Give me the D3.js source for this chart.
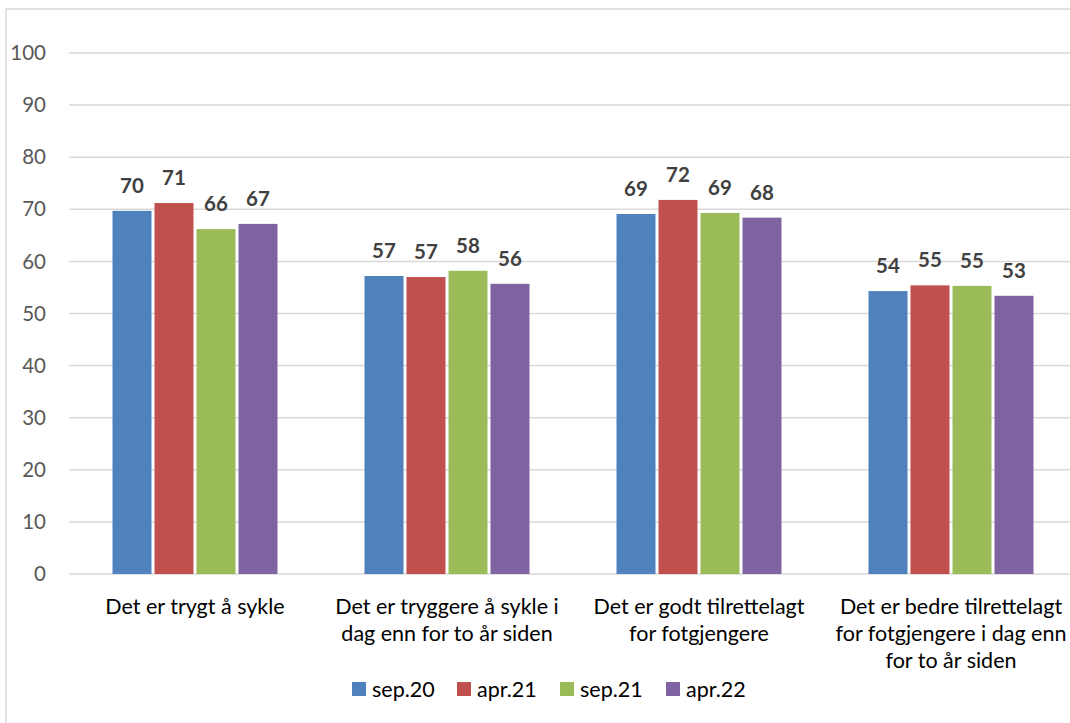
<!DOCTYPE html>
<html><head><meta charset="utf-8">
<script src="https://cdn.jsdelivr.net/npm/d3@7"></script>
<style>body{margin:0;background:#fff}svg{display:block}text{font-family:Lato,"Open Sans",sans-serif}</style>
</head><body>
<svg id="c" width="1070" height="723"></svg>
<script>
const categories = [["Det er trygt å sykle"],["Det er tryggere å sykle i","dag enn for to år siden"],["Det er godt tilrettelagt","for fotgjengere"],["Det er bedre tilrettelagt","for fotgjengere i dag enn","for to år siden"]];
const seriesNames = ["sep.20","apr.21","sep.21","apr.22"];
const sep20 = [69.7, 57.2, 69.1, 54.3];
const apr21 = [71.2, 57.0, 71.8, 55.4];
const sep21 = [66.2, 58.2, 69.3, 55.3];
const apr22 = [67.2, 55.7, 68.4, 53.4];
const colors = ["#4F81BD","#C0504D","#9BBB59","#8064A2"];
const yTicks = [0,10,20,30,40,50,60,70,80,90,100];
const series = [sep20, apr21, sep21, apr22];

const svg = d3.select("#c");
svg.append("rect").attr("x",6).attr("y",9).attr("width",1100).attr("height",760)
  .attr("fill","none").attr("stroke","#d9d9d9").attr("stroke-width",1.5);

const x0 = 69, bw = 252;
const x = d3.scaleBand().domain(d3.range(categories.length)).range([x0, x0 + bw*categories.length]).paddingInner(0).paddingOuter(0);
const xs = d3.scaleBand().domain(d3.range(series.length)).range([0, 168]);
const y = d3.scaleLinear().domain([0,100]).range([574,53]);

const g = svg.append("g");
g.selectAll("line.grid").data(yTicks).enter().append("line")
  .attr("x1", x0).attr("x2", 1070).attr("y1", d=>y(d)).attr("y2", d=>y(d))
  .attr("stroke","#d9d9d9").attr("stroke-width",1.5);
g.selectAll("text.tick").data(yTicks).enter().append("text")
  .attr("x",46).attr("y",d=>y(d)).attr("dy","0.35em").attr("text-anchor","end")
  .attr("font-size",20.5).attr("fill","#595959").text(d=>d);

series.forEach((s, si) => {
  const off = (x.bandwidth()-168)/2 + xs(si);
  g.selectAll(null).data(s).enter().append("rect")
    .attr("x",(d,i)=>x(i)+off+1.5).attr("width",xs.bandwidth()-3)
    .attr("y",d=>y(d)).attr("height",d=>y(0)-y(d)).attr("fill",colors[si]);
  g.selectAll(null).data(s).enter().append("text")
    .attr("x",(d,i)=>x(i)+off+xs.bandwidth()/2).attr("y",d=>y(d)-18)
    .attr("text-anchor","middle").attr("font-size",20.5).attr("font-weight","bold")
    .attr("fill","#404040").text(d=>d3.format(".0f")(d));
});

categories.forEach((lines, i) => {
  const t = g.append("text").attr("text-anchor","middle").attr("font-size",21.5).attr("fill","#000");
  lines.forEach((l, li) => t.append("tspan").attr("x", x(i)+x.bandwidth()/2).attr("y", 614 + li*27).text(l));
});

const legX = [352, 457, 560, 666];
seriesNames.forEach((n, i) => {
  svg.append("rect").attr("x",legX[i]).attr("y",682).attr("width",14).attr("height",14).attr("fill",colors[i]);
  svg.append("text").attr("x",legX[i]+20).attr("y",689).attr("dy","0.35em").attr("font-size",21.5).attr("fill","#000").text(n);
});
</script>
</body></html>
